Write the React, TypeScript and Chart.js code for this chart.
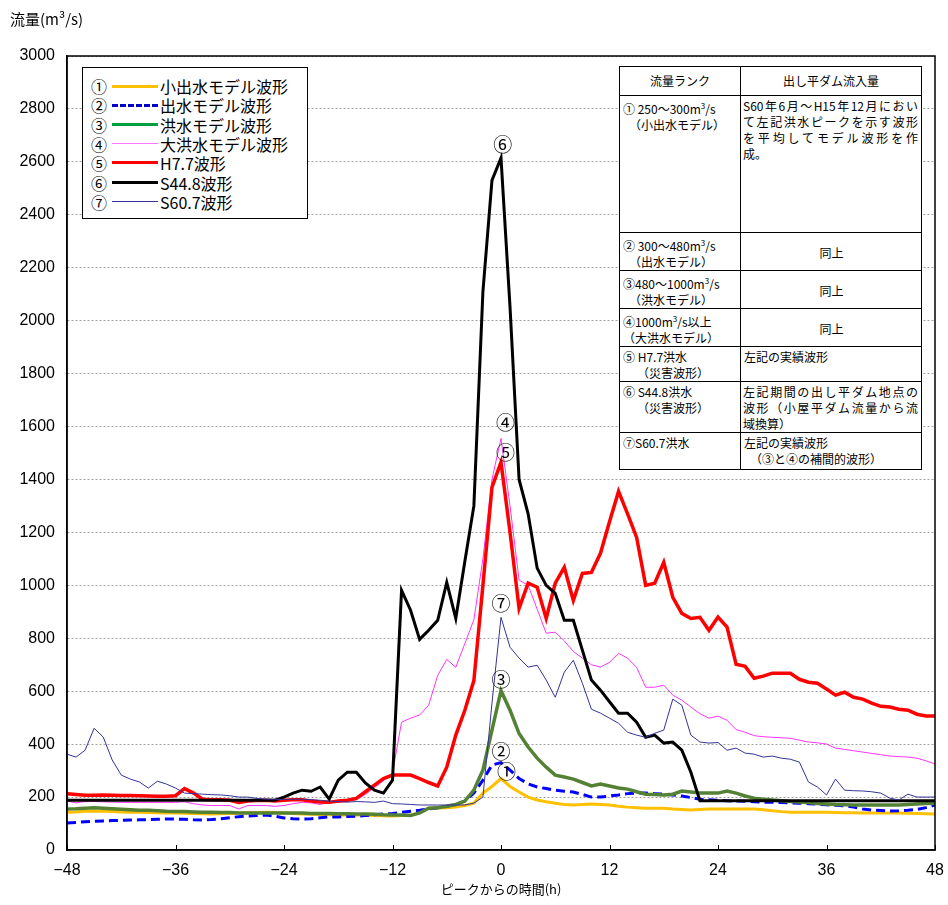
import React, { useEffect, useRef } from 'react';
import { Chart, registerables } from 'chart.js';

Chart.register(...registerables);

// ---- data ----
const HOURS = [
  -48, -47, -46, -45, -44, -43, -42, -41, -40, -39, -38, -37, -36, -35, -34, -33, -32, -31, -30, -29,
  -28, -27, -26, -25, -24, -23, -22, -21, -20, -19, -18, -17, -16, -15, -14, -13, -12, -11, -10, -9,
  -8, -7, -6, -5, -4, -3, -2, -1, 0, 1, 2, 3, 4, 5, 6, 7, 8, 9, 10, 11, 12, 13, 14, 15, 16, 17, 18,
  19, 20, 21, 22, 23, 24, 25, 26, 27, 28, 29, 30, 31, 32, 33, 34, 35, 36, 37, 38, 39, 40, 41, 42, 43,
  44, 45, 46, 47, 48,
];

const S1_SMALL = [
  143, 144, 146, 147, 146, 145, 144, 143, 143, 142,
  141, 140, 140, 139, 138, 137, 136, 137, 138, 140,
  141, 142, 143, 142, 140, 138, 136, 135, 134, 133,
  132, 132, 132, 131, 130, 129, 128, 130, 132, 140,
  158, 159, 160, 162, 168, 177, 215, 240,
  270,
  240, 219, 200, 189, 182, 177, 172, 170, 172, 174,
  172, 170, 165, 162, 160, 158, 158, 158, 155, 153,
  151, 153, 155, 155, 155, 155, 155, 155, 152, 148,
  145, 143, 143, 143, 143, 143, 142, 141, 141, 140,
  140, 140, 140, 140, 139, 138, 137, 136,
];

const S2_MID = [
  102, 104, 107, 109, 110, 111, 112, 113, 114, 115,
  116, 117, 117, 116, 114, 113, 115, 118, 122, 126,
  128, 130, 132, 128, 121, 118, 117, 118, 122, 125,
  125, 127, 128, 130, 133, 136, 138, 142, 146, 150,
  155, 160, 165, 172, 185, 215, 264, 321,
  330,
  302, 270, 250, 238, 232, 226, 222, 219, 210, 200,
  200, 204, 208, 213, 215, 215, 213, 211, 208, 204,
  198, 192, 190, 188, 186, 185, 184, 182, 181, 180,
  179, 178, 177, 175, 173, 171, 169, 167, 162, 155,
  151, 149, 147, 148, 150, 153, 160, 170,
];

const S3_FLOOD = [
  155, 156, 158, 160, 158, 156, 154, 152, 150, 150,
  148, 146, 145, 145, 144, 143, 143, 142, 142, 140,
  140, 140, 140, 140, 140, 140, 140, 138, 138, 138,
  137, 137, 136, 136, 135, 133, 132, 132, 130, 140,
  158, 160, 165, 172, 185, 226, 302, 453,
  602,
  528, 440, 389, 347, 313, 283, 276, 268, 255, 242,
  249, 242, 234, 230, 220, 211, 210, 208, 211, 223,
  219, 215, 215, 215, 223, 215, 204, 196, 192, 189,
  186, 183, 181, 179, 176, 174, 172, 171, 170, 170,
  170, 170, 170, 170, 172, 174, 176, 177,
];

const S4_BIG = [
  185, 178, 183, 183, 182, 181, 180, 180, 180, 180,
  180, 180, 180, 182, 175, 170, 168, 168, 168, 155,
  168, 168, 168, 165, 168, 175, 180, 178, 172, 180,
  180, 185, 190, 210, 235, 262, 290, 483, 498, 510,
  547, 660, 720, 690, 780, 870, 1100, 1400,
  1555,
  1300, 1020, 1000, 910, 819, 823, 790, 750, 725, 700,
  691, 709, 743, 725, 690, 615, 615, 623, 585, 566,
  540, 515, 498, 506, 490, 455, 445, 432, 428, 426,
  424, 422, 415, 408, 405, 400, 385, 380, 375, 370,
  365, 360, 355, 353, 351, 347, 337, 325,
];

const S5_H77 = [
  213, 210, 207, 207, 208, 207, 206, 206, 205, 204,
  203, 203, 205, 232, 215, 192, 190, 190, 188, 180,
  185, 187, 188, 185, 188, 190, 190, 185, 181, 180,
  185, 188, 195, 220, 245, 270, 283, 283, 283, 270,
  255, 242, 313, 434, 528, 640, 1000, 1370,
  1465,
  1200, 913, 1008, 993, 875, 1008, 1068, 943, 1045, 1049,
  1121, 1240, 1355, 1270, 1181, 1000, 1008, 1087, 955, 894,
  875, 879, 830, 880, 842, 702, 694, 649, 657, 668,
  668, 668, 645, 634, 630, 608, 585, 596, 577, 570,
  555, 543, 540, 532, 528, 513, 506, 506,
];

const S6_S448 = [
  188, 188, 188, 188, 188, 188, 188, 188, 188, 188,
  188, 188, 188, 188, 188, 188, 188, 188, 188, 188,
  188, 188, 188, 188, 200, 215, 226, 222, 238, 192,
  264, 294, 294, 253, 226, 215, 264, 981, 906, 796,
  830, 868, 1011, 875, 1090, 1300, 2110, 2530,
  2615,
  2050, 1400, 1270, 1065, 1000, 970, 868, 868, 755, 642,
  604, 560, 517, 517, 483, 426, 434, 404, 408, 377,
  294, 186, 186, 186, 186, 186, 186, 186, 186, 186,
  186, 186, 186, 186, 186, 186, 186, 186, 186, 186,
  186, 186, 186, 186, 186, 186, 186, 186,
];

const S7_S607 = [
  362, 351, 377, 460, 427, 340, 283, 268, 257, 234,
  260, 249, 234, 215, 213, 211, 209, 208, 205, 200,
  200, 195, 192, 192, 190, 192, 192, 190, 188, 185,
  183, 181, 183, 182, 180, 185, 175, 174, 172, 170,
  170, 170, 170, 170, 170, 177, 200, 555,
  879,
  766, 725, 691, 698, 642, 577, 672, 717, 630, 532,
  517, 498, 479, 445, 434, 426, 441, 453, 570, 547,
  434, 408, 404, 406, 377, 385, 366, 362, 351, 355,
  347, 343, 332, 257, 238, 208, 268, 226, 224, 223,
  220, 215, 196, 189, 211, 200, 200, 200,
];

const SERIES = [S1_SMALL, S2_MID, S3_FLOOD, S4_BIG, S5_H77, S6_S448, S7_S607];
const MARKS = ['①', '②', '③', '④', '⑤', '⑥', '⑦'];
const NAMES = ['小出水モデル波形', '出水モデル波形', '洪水モデル波形', '大洪水モデル波形', 'H7.7波形', 'S44.8波形', 'S60.7波形'];

// peak annotations (data coordinates)
const ANNOT_TEXT = ['⑥', '④', '⑤', '⑦', '③', '②', '①'];
const ANNOT_X = [0.2, 0.5, 0.5, 0, 0, 0, 0.6];
const ANNOT_Y = [2665, 1615, 1500, 930, 642, 370, 295];

const Y_TITLE = '流量(m³/s)';
const X_TITLE = 'ピークからの時間(h)';

// ---- styles ----
const COLORS = ['#FFC000', '#0000FF', '#548235', '#FF33FF', '#FF0000', '#000000', '#333399'];
const LEGEND_COLORS = ['#FFC000', '#0000CC', '#00A040', '#FF77FF', '#FF0000', '#000000', '#333399'];
const WIDTHS = [3, 3, 3.5, 1, 3.5, 3, 1];
const DASHES: number[][] = [[], [9, 5], [], [], [], [], []];

const NUM_FONT = '"Liberation Sans", Arial, sans-serif';
const JP_FONT = '"Noto Sans CJK JP", "Noto Sans", sans-serif';

const framePlugin = {
  id: 'frame',
  afterDatasetsDraw(chart: any) {
    const { ctx, scales } = chart;
    ctx.save();
    ctx.font = `19px ${JP_FONT}`;
    ctx.fillStyle = '#000';
    ctx.textAlign = 'center';
    ctx.textBaseline = 'middle';
    for (let i = 0; i < ANNOT_TEXT.length; i++) {
      ctx.fillText(ANNOT_TEXT[i], scales.x.getPixelForValue(ANNOT_X[i]), scales.y.getPixelForValue(ANNOT_Y[i]));
    }
    ctx.restore();
  },
  afterDraw(chart: any) {
    const { ctx, chartArea, scales } = chart;
    ctx.save();
    ctx.strokeStyle = '#000';
    ctx.lineWidth = 1.5;
    ctx.strokeRect(chartArea.left, chartArea.top, chartArea.right - chartArea.left, chartArea.bottom - chartArea.top);
    ctx.lineWidth = 1;
    ctx.beginPath();
    for (const t of scales.x.ticks) {
      const px = Math.round(scales.x.getPixelForValue(t.value)) + 0.5;
      ctx.moveTo(px, chartArea.bottom);
      ctx.lineTo(px, chartArea.bottom - 5);
    }
    ctx.stroke();
    ctx.restore();
  },
};

const cellBase: React.CSSProperties = {
  border: '1px solid #000',
  verticalAlign: 'top',
  padding: '2px 2px 0 3px',
  fontSize: 12,
  lineHeight: '16px',
  color: '#000',
  overflow: 'hidden',
};

const just: React.CSSProperties = { display: 'block', textAlign: 'justify', textAlignLast: 'justify' as any, whiteSpace: 'nowrap' };

function Sup3() {
  return <span style={{ fontSize: 8, verticalAlign: 5 }}>3</span>;
}

export default function App() {
  const canvasRef = useRef<HTMLCanvasElement | null>(null);

  useEffect(() => {
    document.body.style.margin = '0';
    const canvas = canvasRef.current;
    if (!canvas) return;
    const datasets = SERIES.map((s, i) => ({
      label: NAMES[i],
      data: s.map((v, j) => ({ x: HOURS[j], y: v })),
      borderColor: COLORS[i],
      backgroundColor: COLORS[i],
      borderWidth: WIDTHS[i],
      borderDash: DASHES[i],
      pointRadius: 0,
      tension: 0,
      fill: false,
      order: 8 - i,
    }));
    const chart = new Chart(canvas, {
      type: 'line',
      data: { datasets },
      options: {
        responsive: false,
        animation: false,
        devicePixelRatio: 1,
        layout: { padding: { top: 56, right: 13, left: 0, bottom: 0 } },
        plugins: { legend: { display: false }, tooltip: { enabled: false }, title: { display: false } },
        scales: {
          x: {
            type: 'linear',
            min: -48,
            max: 48,
            afterFit: (s: any) => {
              s.height = 55;
              s.paddingLeft = 0;
              s.paddingRight = 0;
            },
            ticks: {
              stepSize: 12,
              color: '#000',
              font: { family: NUM_FONT, size: 16 },
              padding: 11,
              maxRotation: 0,
              callback: (v: any) => (Number(v) < 0 ? '−' + Math.abs(Number(v)) : String(v)),
            },
            grid: { display: true, drawOnChartArea: false, drawTicks: false },
            border: { display: true, color: '#000', width: 1.5 },
            title: {
              display: true,
              text: X_TITLE,
              color: '#000',
              font: { family: JP_FONT, size: 13 },
              padding: { top: 0, bottom: 8 },
            },
          },
          y: {
            min: 0,
            max: 3000,
            afterFit: (s: any) => {
              s.width = 67;
              s.paddingTop = 0;
              s.paddingBottom = 0;
            },
            ticks: {
              stepSize: 200,
              color: '#000',
              font: { family: NUM_FONT, size: 16 },
              padding: 12,
              callback: (v: any) => String(v),
            },
            grid: { color: '#a0a0a0', lineWidth: 1, drawTicks: false },
            border: { display: true, color: '#000', width: 1.5, dash: [2, 2] },
          },
        },
      } as any,
      plugins: [framePlugin],
    });
    return () => chart.destroy();
  }, []);

  return (
    <div style={{ position: 'relative', width: 948, height: 905, background: '#fff', fontFamily: JP_FONT }}>
      <canvas ref={canvasRef} width={948} height={905} style={{ position: 'absolute', left: 0, top: 0, width: 948, height: 905 }} />
      <div style={{ position: 'absolute', left: 10, top: 9, fontSize: 15, lineHeight: '20px', color: '#000' }}>{Y_TITLE}</div>

      {/* legend */}
      <div style={{ position: 'absolute', left: 82, top: 67, width: 224, height: 150, border: '1px solid #000', background: '#fff' }}>
        {NAMES.map((n, i) => (
          <div key={i} style={{ position: 'absolute', left: 0, top: 8 + i * 19.3, height: 20, width: 224 }}>
            <span style={{ position: 'absolute', left: 8, top: 0, fontSize: 16, lineHeight: '20px' }}>{MARKS[i]}</span>
            <span
              style={{
                position: 'absolute',
                left: 29,
                top: 10 - Math.max(WIDTHS[i], 1.5) / 2,
                width: 46,
                height: 0,
                borderTop: `${Math.max(WIDTHS[i], 1.5)}px ${DASHES[i].length ? 'dashed' : 'solid'} ${LEGEND_COLORS[i]}`,
              }}
            />
            <span style={{ position: 'absolute', left: 77, top: 0, fontSize: 16, lineHeight: '20px', whiteSpace: 'nowrap' }}>{n}</span>
          </div>
        ))}
      </div>

      {/* table */}
      <table
        style={{
          position: 'absolute',
          left: 619,
          top: 66,
          width: 302,
          borderCollapse: 'collapse',
          tableLayout: 'fixed',
          background: '#fff',
          border: '1.5px solid #000',
        }}
      >
        <colgroup>
          <col style={{ width: 121 }} />
          <col style={{ width: 181 }} />
        </colgroup>
        <tbody>
          <tr style={{ height: 29 }}>
            <td style={{ ...cellBase, textAlign: 'center', verticalAlign: 'middle', padding: 0 }}>流量ランク</td>
            <td style={{ ...cellBase, textAlign: 'center', verticalAlign: 'middle', padding: 0 }}>出し平ダム流入量</td>
          </tr>
          <tr style={{ height: 137 }}>
            <td style={cellBase}>
              <div>① 250～300m<Sup3 />/s</div>
              <div style={{ paddingLeft: 6 }}>（小出水モデル）</div>
            </td>
            <td style={{ ...cellBase, padding: '2px 3px 0 2px' }}>
              <span style={just}>S60年6月～H15年12月におい</span>
              <span style={just}>て左記洪水ピークを示す波形</span>
              <span style={just}>を平均してモデル波形を作</span>
              <span style={{ display: 'block' }}>成。</span>
            </td>
          </tr>
          <tr style={{ height: 35 }}>
            <td style={cellBase}>
              <div>② 300～480m<Sup3 />/s</div>
              <div style={{ paddingLeft: 6 }}>（出水モデル）</div>
            </td>
            <td style={{ ...cellBase, textAlign: 'center', verticalAlign: 'middle' }}>同上</td>
          </tr>
          <tr style={{ height: 35 }}>
            <td style={cellBase}>
              <div>③480～1000m<Sup3 />/s</div>
              <div style={{ paddingLeft: 6 }}>（洪水モデル）</div>
            </td>
            <td style={{ ...cellBase, textAlign: 'center', verticalAlign: 'middle' }}>同上</td>
          </tr>
          <tr style={{ height: 34 }}>
            <td style={cellBase}>
              <div>④1000m<Sup3 />/s以上</div>
              <div style={{ paddingLeft: 0 }}>（大洪水モデル）</div>
            </td>
            <td style={{ ...cellBase, textAlign: 'center', verticalAlign: 'middle' }}>同上</td>
          </tr>
          <tr style={{ height: 33 }}>
            <td style={cellBase}>
              <div>⑤ H7.7洪水</div>
              <div style={{ paddingLeft: 14 }}>（災害波形）</div>
            </td>
            <td style={cellBase}>左記の実績波形</td>
          </tr>
          <tr style={{ height: 48 }}>
            <td style={cellBase}>
              <div>⑥ S44.8洪水</div>
              <div style={{ paddingLeft: 14 }}>（災害波形）</div>
            </td>
            <td style={{ ...cellBase, padding: '2px 3px 0 2px' }}>
              <span style={just}>左記期間の出し平ダム地点の</span>
              <span style={just}>波形（小屋平ダム流量から流</span>
              <span style={{ display: 'block' }}>域換算）</span>
            </td>
          </tr>
          <tr style={{ height: 37 }}>
            <td style={cellBase}>
              <div>⑦S60.7洪水</div>
            </td>
            <td style={cellBase}>
              <div>左記の実績波形</div>
              <div style={{ paddingLeft: 6 }}>（③と④の補間的波形）</div>
            </td>
          </tr>
        </tbody>
      </table>
    </div>
  );
}
